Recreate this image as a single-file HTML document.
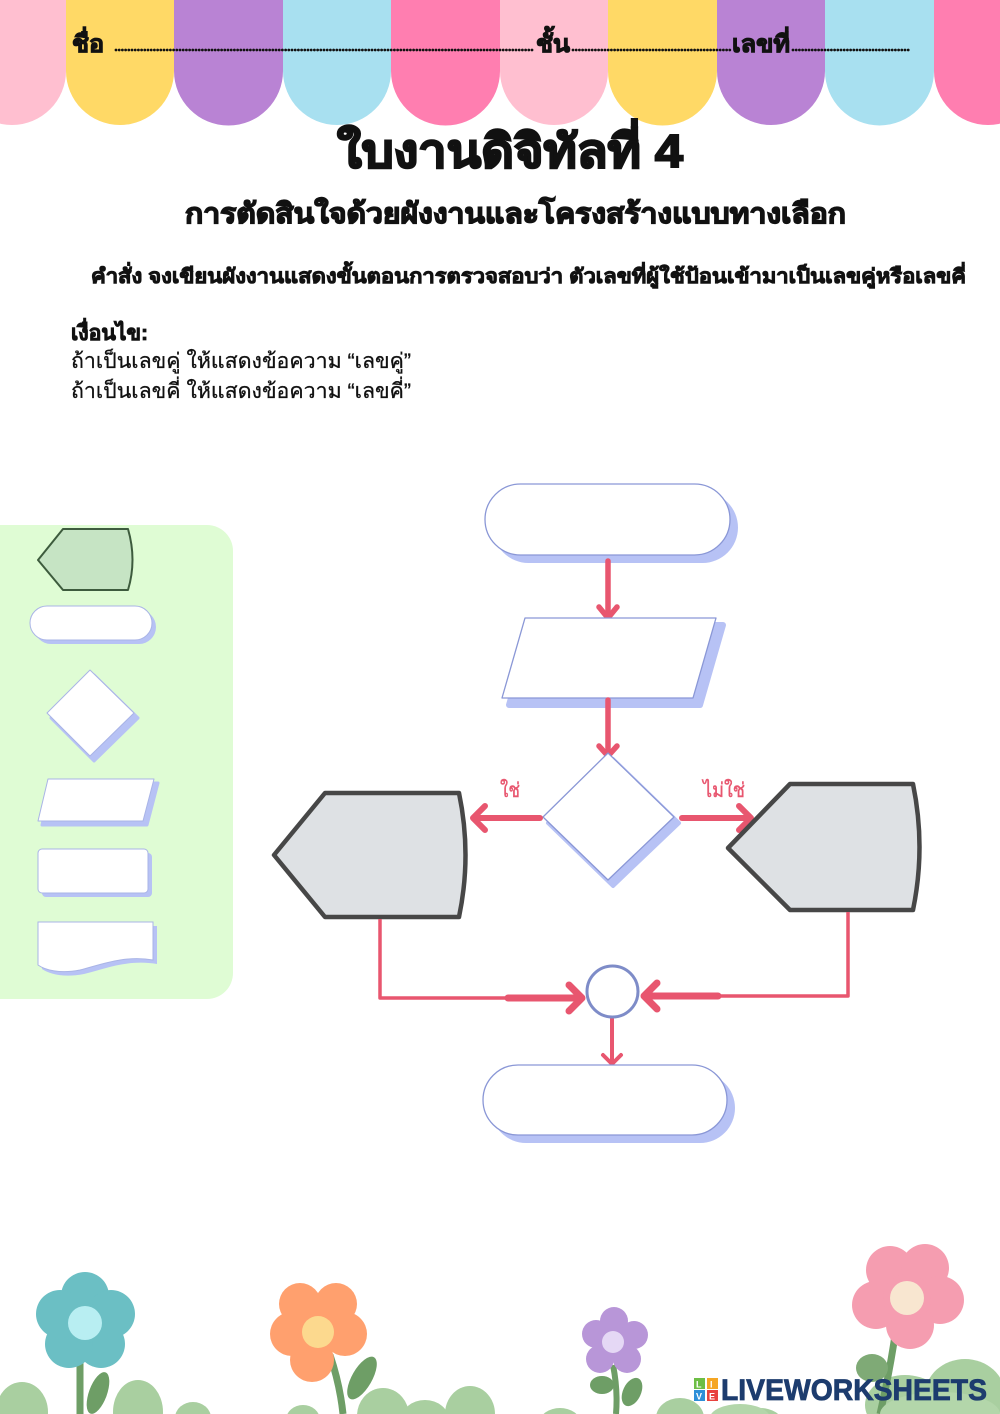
<!DOCTYPE html>
<html><head><meta charset="utf-8"><style>
html,body{margin:0;padding:0;background:#fff;}
svg{display:block;}
text{font-family:"Liberation Sans","DejaVu Sans",sans-serif;}
</style></head><body>
<svg width="1000" height="1414" viewBox="0 0 1000 1414" xmlns="http://www.w3.org/2000/svg">
<!-- Banner scallops -->
<g>
<path d="M-42,0 H66 V71 A54,54 0 0 1 -42,71 Z" fill="#FFBFD0"/>
<path d="M66,0 H174 V71 A54,54 0 0 1 66,71 Z" fill="#FFD966"/>
<path d="M174,0 H283 V71 A54.5,54.5 0 0 1 174,71 Z" fill="#B983D4"/>
<path d="M283,0 H391 V71 A54,54 0 0 1 283,71 Z" fill="#A8E0F0"/>
<path d="M391,0 H500 V71 A54.5,54.5 0 0 1 391,71 Z" fill="#FF7EB0"/>
<path d="M500,0 H608 V71 A54,54 0 0 1 500,71 Z" fill="#FFBFD0"/>
<path d="M608,0 H717 V71 A54.5,54.5 0 0 1 608,71 Z" fill="#FFD966"/>
<path d="M717,0 H825 V71 A54,54 0 0 1 717,71 Z" fill="#B983D4"/>
<path d="M825,0 H934 V71 A54.5,54.5 0 0 1 825,71 Z" fill="#A8E0F0"/>
<path d="M934,0 H1042 V71 A54,54 0 0 1 934,71 Z" fill="#FF7EB0"/>
</g>
<!-- Header line -->
<g fill="#111" stroke="#111" stroke-width="1" font-weight="bold">
<text x="72" y="52" font-size="24" textLength="32" lengthAdjust="spacingAndGlyphs">ชื่อ</text>
<text x="536" y="52" font-size="24" textLength="34" lengthAdjust="spacingAndGlyphs">ชั้น</text>
<text x="732" y="52" font-size="24" textLength="58" lengthAdjust="spacingAndGlyphs">เลขที่</text>
</g>
<g stroke="#111" stroke-width="2.8" stroke-dasharray="0 3.2" stroke-linecap="round">
<line x1="116" y1="50" x2="534" y2="50"/>
<line x1="573" y1="50" x2="730" y2="50"/>
<line x1="793" y1="50" x2="910" y2="50"/>
</g>

<!-- Titles -->
<text x="337" y="167" font-size="46" font-weight="bold" fill="#111" stroke="#111" stroke-width="2" textLength="346" lengthAdjust="spacingAndGlyphs">ใบงานดิจิทัลที่ 4</text>
<text x="185" y="223" font-size="28" font-weight="bold" fill="#111" stroke="#111" stroke-width="1.3" textLength="661" lengthAdjust="spacingAndGlyphs">การตัดสินใจด้วยผังงานและโครงสร้างแบบทางเลือก</text>
<text x="91" y="283" font-size="20" font-weight="bold" fill="#111" stroke="#111" stroke-width="0.8" textLength="875" lengthAdjust="spacingAndGlyphs">คำสั่ง จงเขียนผังงานแสดงขั้นตอนการตรวจสอบว่า ตัวเลขที่ผู้ใช้ป้อนเข้ามาเป็นเลขคู่หรือเลขคี่</text>
<text x="71" y="340" font-size="21" font-weight="bold" fill="#111" stroke="#111" stroke-width="0.8" textLength="77" lengthAdjust="spacingAndGlyphs">เงื่อนไข:</text>
<text x="71" y="368" font-size="21" fill="#111" stroke="#111" stroke-width="0.3" textLength="340" lengthAdjust="spacingAndGlyphs">ถ้าเป็นเลขคู่ ให้แสดงข้อความ “เลขคู่”</text>
<text x="71" y="398" font-size="21" fill="#111" stroke="#111" stroke-width="0.3" textLength="340" lengthAdjust="spacingAndGlyphs">ถ้าเป็นเลขคี่ ให้แสดงข้อความ “เลขคี่”</text>

<!-- Left panel -->
<rect x="-30" y="525" width="263" height="474" rx="26" fill="#DFFCD4"/>
<path d="M38,560 L63,529 H128 Q137,560 128,590 H63 Z" fill="#C6E4C4" stroke="#3D5B3D" stroke-width="2" stroke-linejoin="round"/>
<rect x="34" y="610" width="122" height="34" rx="17" fill="#B7C2F5"/>
<rect x="30" y="606" width="122" height="34" rx="17" fill="#fff" stroke="#A9B4E6" stroke-width="1"/>
<polygon points="94,675 138,718 94,761 51,718" fill="#B7C2F5" stroke="#B7C2F5" stroke-width="3" stroke-linejoin="round"/>
<polygon points="90,670 134,713 90,756 47,713" fill="#fff" stroke="#A9B4E6" stroke-width="1" stroke-linejoin="round"/>
<polygon points="52,783 158,783 147,825 42,825" fill="#B7C2F5" stroke="#B7C2F5" stroke-width="3" stroke-linejoin="round"/>
<polygon points="48,779 154,779 143,821 38,821" fill="#fff" stroke="#A9B4E6" stroke-width="1" stroke-linejoin="round"/>
<rect x="42" y="853" width="110" height="44" rx="4" fill="#B7C2F5"/>
<rect x="38" y="849" width="110" height="44" rx="4" fill="#fff" stroke="#A9B4E6" stroke-width="1"/>
<path d="M42,926 H157 V964 C128,959 104,969 84,974 C64,978 49,974 42,969 Z" fill="#B7C2F5"/>
<path d="M38,922 H153 V960 C124,955 100,965 80,970 C60,974 45,970 38,965 Z" fill="#fff" stroke="#A9B4E6" stroke-width="1"/>

<!-- Flowchart -->
<rect x="493" y="492" width="245" height="71" rx="35.5" fill="#B7C2F5"/>
<rect x="485" y="484" width="245" height="71" rx="35.5" fill="#fff" stroke="#8A97D6" stroke-width="1.3"/>
<g stroke="#E8566F" stroke-linecap="round" stroke-linejoin="round" fill="none">
<line x1="608" y1="561" x2="608" y2="618" stroke-width="5.5"/>
<polyline points="599,607 608,618 617,607" stroke-width="5.5"/>
</g>
<polygon points="532,625 723,625 700,705 509,705" fill="#B7C2F5" stroke="#B7C2F5" stroke-width="6" stroke-linejoin="round"/>
<polygon points="525,618 716,618 693,698 502,698" fill="#fff" stroke="#8A97D6" stroke-width="1.3" stroke-linejoin="round"/>
<g stroke="#E8566F" stroke-linecap="round" stroke-linejoin="round" fill="none">
<line x1="608" y1="700" x2="608" y2="755" stroke-width="5.5"/>
<polyline points="599,746 608,756 617,746" stroke-width="5.5"/>
</g>
<polygon points="613,759 679,823 613,886 548,823" fill="#B7C2F5" stroke="#B7C2F5" stroke-width="4" stroke-linejoin="round"/>
<polygon points="608,753 674,817 608,880 543,817" fill="#fff" stroke="#8A97D6" stroke-width="1.3" stroke-linejoin="round"/>
<g stroke="#E8566F" stroke-linecap="round" stroke-linejoin="round" fill="none">
<line x1="540" y1="818" x2="474" y2="818" stroke-width="6"/>
<polyline points="485,806 473,818 485,830" stroke-width="6"/>
<line x1="682" y1="818" x2="750" y2="818" stroke-width="6"/>
<polyline points="739,806 751,818 739,830" stroke-width="6"/>
</g>
<text x="500" y="797" font-size="20" fill="#E8566F" stroke="#E8566F" stroke-width="0.4" textLength="20" lengthAdjust="spacingAndGlyphs">ใช่</text>
<text x="703" y="797" font-size="20" fill="#E8566F" stroke="#E8566F" stroke-width="0.4" textLength="42" lengthAdjust="spacingAndGlyphs">ไม่ใช่</text>
<path d="M274,855 L325,793 H459 Q472,855 459,917 H325 Z" fill="#DEE1E4" stroke="#474747" stroke-width="4.5" stroke-linejoin="round"/>
<path d="M728,848 L790,784 H913 Q926,847 913,910 H790 Z" fill="#DEE1E4" stroke="#474747" stroke-width="4.5" stroke-linejoin="round"/>
<g stroke="#E8566F" stroke-linecap="round" stroke-linejoin="round" fill="none">
<polyline points="380,919 380,998 512,998" stroke-width="3.5" stroke-linecap="butt"/>
<line x1="508" y1="998" x2="581" y2="998" stroke-width="7"/>
<polyline points="569,985 582,998 569,1011" stroke-width="7"/>
<polyline points="848,912 848,996 716,996" stroke-width="3.5" stroke-linecap="butt"/>
<line x1="718" y1="996" x2="645" y2="996" stroke-width="7"/>
<polyline points="657,983 644,996 657,1009" stroke-width="7"/>
<line x1="612" y1="1019" x2="612" y2="1063" stroke-width="4"/>
<polyline points="603,1055 612,1064 621,1055" stroke-width="4"/>
</g>
<circle cx="612.5" cy="991.5" r="25.5" fill="#fff" stroke="#7E8CC8" stroke-width="3"/>
<rect x="491" y="1073" width="244" height="70" rx="35" fill="#B7C2F5"/>
<rect x="483" y="1065" width="244" height="70" rx="35" fill="#fff" stroke="#8A97D6" stroke-width="1.3"/>

<!-- Bottom flowers -->
<g>
<g fill="#A9CFA0">
<ellipse cx="22" cy="1412" rx="26" ry="30"/>
<ellipse cx="138" cy="1412" rx="25" ry="32"/>
<ellipse cx="193" cy="1418" rx="18" ry="16"/>
<ellipse cx="303" cy="1420" rx="17" ry="15"/>
<ellipse cx="383" cy="1416" rx="26" ry="28"/>
<ellipse cx="425" cy="1420" rx="24" ry="20"/>
<ellipse cx="470" cy="1414" rx="25" ry="28"/>
<ellipse cx="560" cy="1422" rx="20" ry="14"/>
<ellipse cx="680" cy="1418" rx="24" ry="20"/>
<ellipse cx="760" cy="1422" rx="22" ry="14"/>
<ellipse cx="905" cy="1405" rx="40" ry="30"/>
<ellipse cx="965" cy="1395" rx="40" ry="36"/>
</g>
<line x1="80" y1="1350" x2="80" y2="1414" stroke="#6E9E66" stroke-width="7"/>
<ellipse cx="98" cy="1393" rx="9" ry="22" transform="rotate(20 98 1393)" fill="#6E9E66"/>
<g fill="#6BBFC4">
<circle cx="85" cy="1296" r="24"/>
<circle cx="111" cy="1314" r="24"/>
<circle cx="101" cy="1344" r="24"/>
<circle cx="69" cy="1344" r="24"/>
<circle cx="60" cy="1314" r="24"/>
<circle cx="85" cy="1323" r="20"/>
</g>
<circle cx="85" cy="1323" r="17" fill="#B8EEF2"/>
<path d="M330,1355 Q340,1385 343,1414" stroke="#6E9E66" stroke-width="7" fill="none"/>
<ellipse cx="362" cy="1378" rx="10" ry="24" transform="rotate(30 362 1378)" fill="#6E9E66"/>
<g fill="#FFA06E">
<circle cx="300" cy="1304" r="21"/>
<circle cx="336" cy="1304" r="21"/>
<circle cx="345" cy="1334" r="22"/>
<circle cx="312" cy="1360" r="22"/>
<circle cx="292" cy="1334" r="22"/>
<circle cx="318" cy="1332" r="22"/>
</g>
<circle cx="318" cy="1332" r="16" fill="#FCD98E"/>
<path d="M613,1365 Q618,1390 616,1414" stroke="#6E9E66" stroke-width="6" fill="none"/>
<ellipse cx="602" cy="1385" rx="12" ry="9" fill="#6E9E66"/>
<ellipse cx="632" cy="1392" rx="9" ry="15" transform="rotate(25 632 1392)" fill="#6E9E66"/>
<g fill="#B896D8">
<circle cx="614" cy="1321" r="14"/>
<circle cx="634" cy="1335" r="14"/>
<circle cx="627" cy="1359" r="14"/>
<circle cx="600" cy="1359" r="14"/>
<circle cx="596" cy="1334" r="14"/>
<circle cx="613" cy="1342" r="14"/>
</g>
<circle cx="613" cy="1342" r="11" fill="#E5D8F5"/>
<path d="M895,1335 Q890,1370 880,1414" stroke="#6E9E66" stroke-width="7" fill="none"/>
<ellipse cx="872" cy="1368" rx="16" ry="14" fill="#7FAA76"/>
<g fill="#F59DB0">
<circle cx="890" cy="1270" r="24"/>
<circle cx="925" cy="1268" r="24"/>
<circle cx="940" cy="1300" r="24"/>
<circle cx="910" cy="1325" r="24"/>
<circle cx="876" cy="1305" r="24"/>
<circle cx="907" cy="1298" r="24"/>
</g>
<circle cx="907" cy="1298" r="17" fill="#F8E6D0"/>
<g fill="#B3D6AA">
<ellipse cx="940" cy="1414" rx="60" ry="22"/>
<ellipse cx="740" cy="1418" rx="30" ry="14"/>
</g>
</g>
<!-- Logo -->
<g>
<rect x="694" y="1378" width="11" height="11" fill="#6DBE45"/>
<rect x="707" y="1378" width="11" height="11" fill="#F5A623"/>
<rect x="694" y="1390" width="11" height="11" fill="#2E8FD8"/>
<rect x="707" y="1390" width="11" height="11" fill="#E8423F"/>
<text x="696" y="1387.5" font-size="9" font-weight="bold" fill="#fff">L</text>
<text x="710" y="1387.5" font-size="9" font-weight="bold" fill="#fff">I</text>
<text x="696" y="1399.5" font-size="9" font-weight="bold" fill="#fff">V</text>
<text x="709" y="1399.5" font-size="9" font-weight="bold" fill="#fff">E</text>
<text x="721" y="1400" font-size="30" font-weight="bold" fill="#1D3C6E" stroke="#1D3C6E" stroke-width="0.8" textLength="266" lengthAdjust="spacingAndGlyphs">LIVEWORKSHEETS</text>
</g>
</svg>
</body></html>
